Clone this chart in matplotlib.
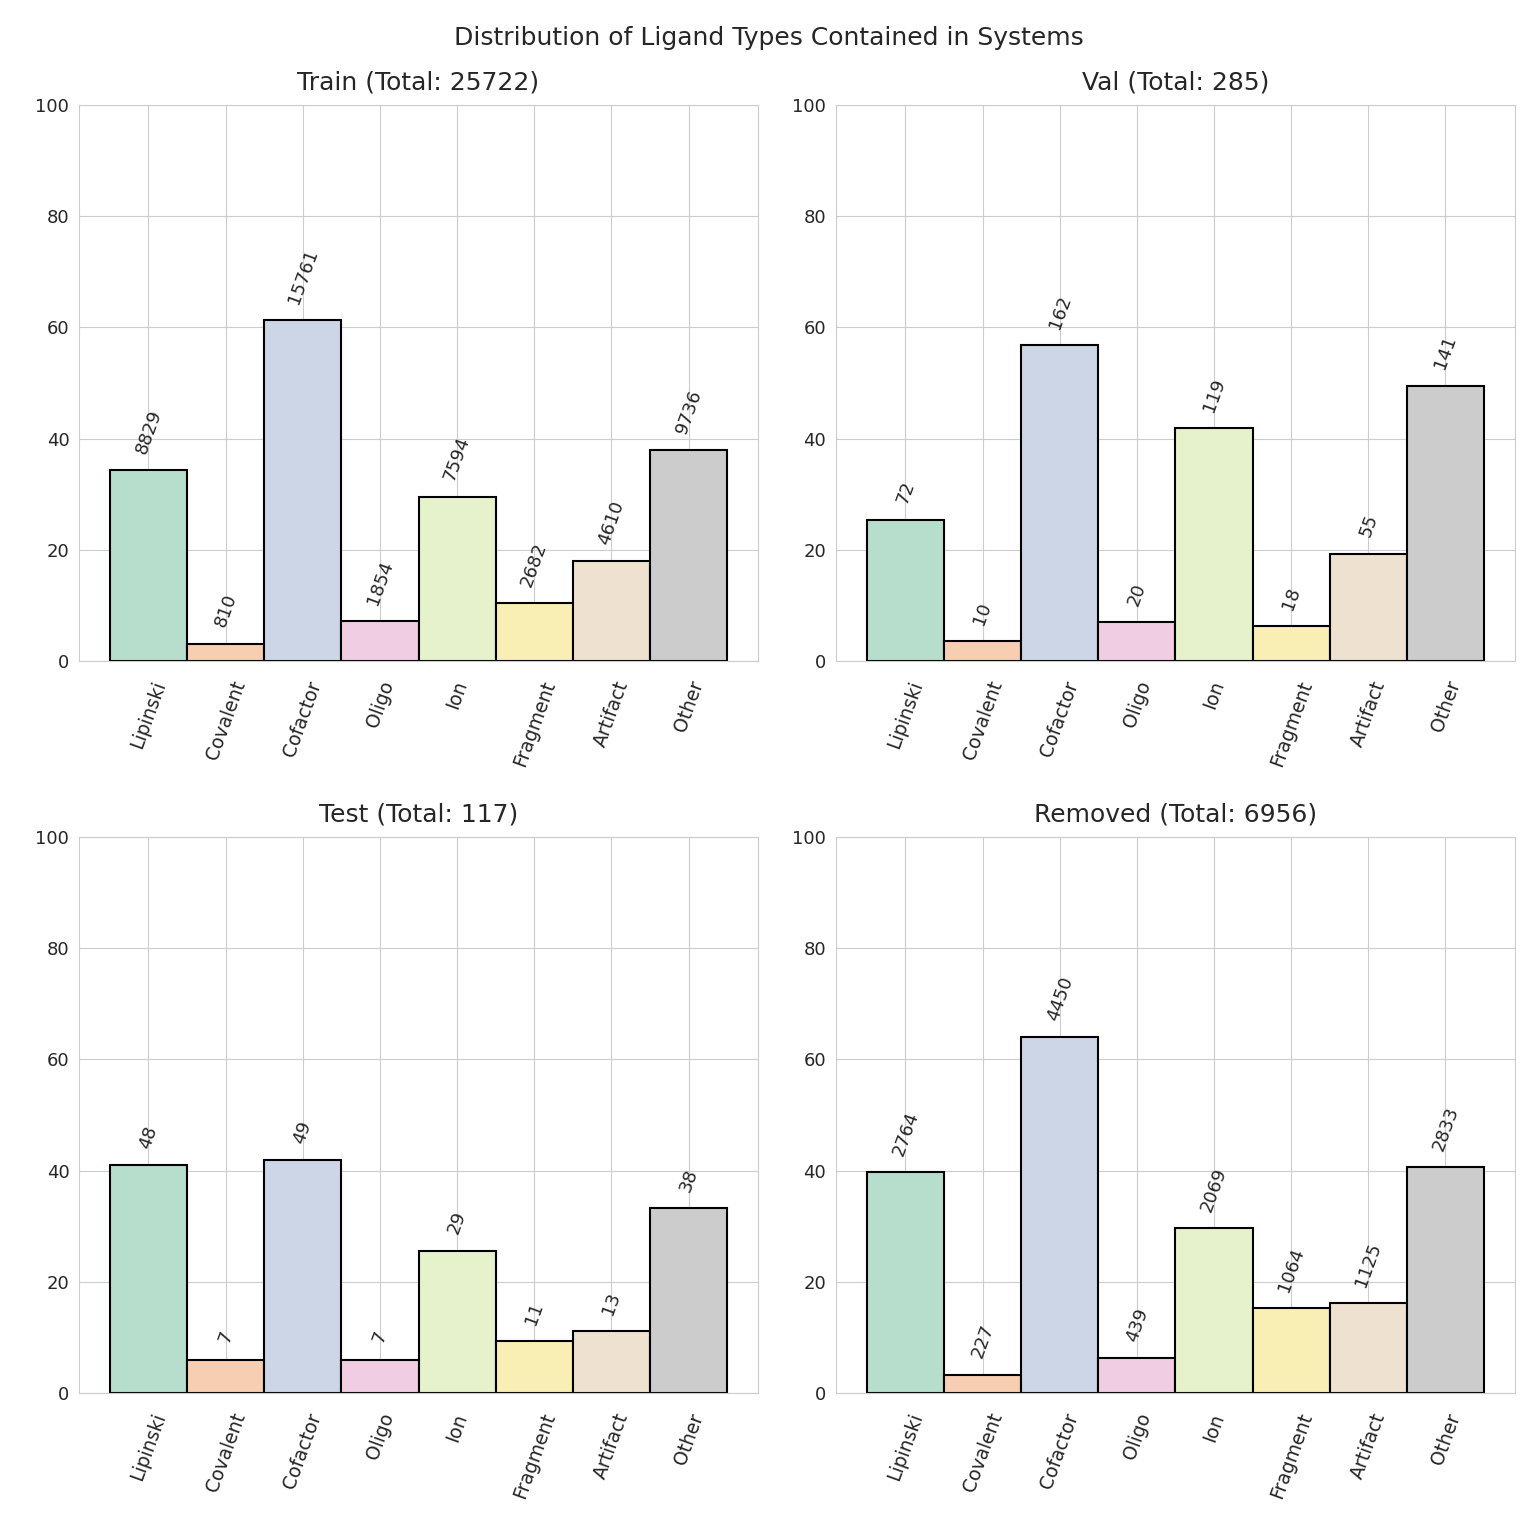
import matplotlib
matplotlib.use("Agg")
import matplotlib.pyplot as plt
import seaborn as sns

sns.set_style("whitegrid")
plt.rcParams['font.family'] = ['DejaVu Sans']

categories = ['Lipinski', 'Covalent', 'Cofactor', 'Oligo', 'Ion', 'Fragment', 'Artifact', 'Other']

# counts shown above each bar
train_counts = [8829, 810, 15761, 1854, 7594, 2682, 4610, 9736]
val_counts = [72, 10, 162, 20, 119, 18, 55, 141]
test_counts = [48, 7, 49, 7, 29, 11, 13, 38]
removed_counts = [2764, 227, 4450, 439, 2069, 1064, 1125, 2833]

# bar heights (% of systems)
train_pct = [34.3, 3.1, 61.3, 7.2, 29.5, 10.4, 17.9, 37.9]
val_pct = [25.3, 3.5, 56.8, 7.0, 41.8, 6.3, 19.3, 49.5]
test_pct = [41.0, 6.0, 41.9, 6.0, 25.6, 9.4, 11.1, 33.3]
removed_pct = [39.7, 3.3, 64.0, 6.3, 29.7, 15.3, 16.2, 40.7]

titles = ['Train (Total: 25722)', 'Val (Total: 285)', 'Test (Total: 117)', 'Removed (Total: 6956)']
all_pct = [train_pct, val_pct, test_pct, removed_pct]
all_counts = [train_counts, val_counts, test_counts, removed_counts]

colors = sns.color_palette("Pastel2", 8, desat=0.85)

fig, axes = plt.subplots(2, 2, figsize=(15.38, 15.32), dpi=100)
fig.subplots_adjust(left=0.0514, right=0.985, top=0.9315, bottom=0.0907,
                    wspace=0.115, hspace=0.317)

for ax, title, pct, counts in zip(axes.flat, titles, all_pct, all_counts):
    x = range(len(categories))
    bars = ax.bar(x, pct, width=1.0, color=colors, edgecolor='black', linewidth=1.5, zorder=2)
    ax.bar_label(bars, labels=[str(c) for c in counts], rotation=70, padding=10,
                 fontsize=13, color='0.15')
    ax.set_xticks(list(x))
    ax.set_xticklabels(categories, rotation=70, fontsize=13.5)
    ax.tick_params(axis='x', pad=9)
    ax.set_ylim(0, 100)
    ax.set_yticks([0, 20, 40, 60, 80, 100])
    ax.tick_params(axis='y', labelsize=13)
    ax.set_title(title, fontsize=18, color='0.15', pad=11)

fig.suptitle('Distribution of Ligand Types Contained in Systems', fontsize=18,
             y=0.975, va='center', color='0.15')

plt.savefig('out.png')
